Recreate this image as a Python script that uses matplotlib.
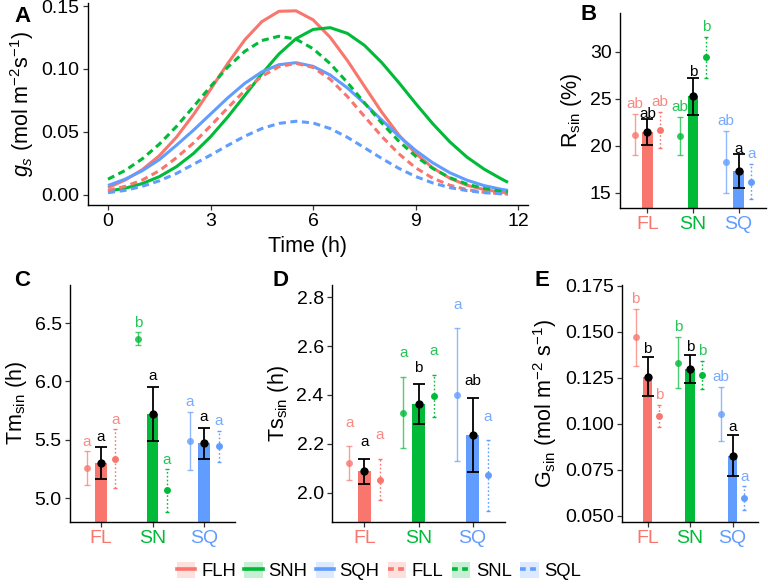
import matplotlib
matplotlib.use('Agg')
import matplotlib.pyplot as plt
import matplotlib.transforms as mtransforms
from matplotlib.patches import Patch
from matplotlib.lines import Line2D

plt.rcParams['font.family'] = ['Liberation Sans', 'DejaVu Sans']
plt.rcParams['mathtext.fontset'] = 'custom'
plt.rcParams['mathtext.rm'] = 'Liberation Sans'
plt.rcParams['mathtext.it'] = 'Liberation Sans:italic'
plt.rcParams['mathtext.bf'] = 'Liberation Sans:bold'

# ---------------- data: panel A ----------------
time_h = [0, 0.5, 1, 1.5, 2, 2.5, 3, 3.5, 4, 4.5, 5, 5.5, 6, 6.5, 7, 7.5,
          8, 8.5, 9, 9.5, 10, 10.5, 11, 11.5, 11.7]
gs_FLH = [0.0058, 0.0118, 0.0200, 0.0311, 0.0458, 0.0637, 0.0838, 0.1043, 0.1231,
          0.1376, 0.1458, 0.1462, 0.1390, 0.1251, 0.1068, 0.0863, 0.0660, 0.0478,
          0.0329, 0.0215, 0.0132, 0.0077, 0.0043, 0.0022, 0.0017]
gs_SNH = [0.0030, 0.0053, 0.0090, 0.0145, 0.0224, 0.0329, 0.0462, 0.0618, 0.0789,
          0.0962, 0.1119, 0.1241, 0.1314, 0.1328, 0.1283, 0.1188, 0.1053, 0.0894,
          0.0726, 0.0565, 0.0421, 0.0300, 0.0205, 0.0128, 0.0100]
gs_SQH = [0.0075, 0.0125, 0.0192, 0.0280, 0.0394, 0.0514, 0.0642, 0.0770, 0.0886,
          0.0977, 0.1034, 0.1050, 0.1021, 0.0952, 0.0850, 0.0728, 0.0597, 0.0469,
          0.0353, 0.0255, 0.0176, 0.0117, 0.0074, 0.0045, 0.0036]
gs_FLL = [0.0036, 0.0068, 0.0118, 0.0192, 0.0295, 0.0412, 0.0548, 0.0691, 0.0828,
          0.0942, 0.1018, 0.1045, 0.1012, 0.0918, 0.0782, 0.0624, 0.0467, 0.0328,
          0.0215, 0.0133, 0.0077, 0.0042, 0.0021, 0.0010, 0.0007]
gs_SNL = [0.0125, 0.0194, 0.0286, 0.0403, 0.0543, 0.0700, 0.0861, 0.1014, 0.1140,
          0.1226, 0.1260, 0.1237, 0.1161, 0.1042, 0.0893, 0.0732, 0.0573, 0.0429,
          0.0307, 0.0210, 0.0137, 0.0086, 0.0051, 0.0029, 0.0023]
gs_SQL = [0.0018, 0.0036, 0.0068, 0.0112, 0.0170, 0.0243, 0.0316, 0.0393, 0.0466,
          0.0527, 0.0568, 0.0585, 0.0571, 0.0527, 0.0458, 0.0375, 0.0291, 0.0212,
          0.0146, 0.0095, 0.0058, 0.0034, 0.0018, 0.0009, 0.0007]

series_names = ['FLH', 'SNH', 'SQH', 'FLL', 'SNL', 'SQL']

# ---------------- data: bar panels ----------------
groups = ['FL', 'SN', 'SQ']

# R_sin (%)
R_H = [21.2, 21.05, 18.28];   R_H_se = [2.15, 2.03, 3.25]
R_M = [21.46, 25.24, 17.29];  R_M_se = [1.36, 1.98, 1.8]
R_L = [21.7, 29.4, 16.2];     R_L_se = [1.92, 2.2, 1.89]
R_lab_H = ['ab', 'ab', 'ab']; R_lab_M = ['ab', 'b', 'a']; R_lab_L = ['ab', 'b', 'a']

# Tm_sin (h)
Tm_H = [5.258, 6.365, 5.49];  Tm_H_se = [0.145, 0.055, 0.25]
Tm_M = [5.30, 5.72, 5.468];   Tm_M_se = [0.135, 0.235, 0.134]
Tm_L = [5.339, 5.066, 5.445]; Tm_L_se = [0.25, 0.183, 0.134]
Tm_lab_H = ['a', 'b', 'a']; Tm_lab_M = ['a', 'a', 'a']; Tm_lab_L = ['a', 'a', 'a']

# Ts_sin (h)
Ts_H = [2.121, 2.328, 2.40];  Ts_H_se = [0.069, 0.147, 0.272]
Ts_M = [2.0875, 2.363, 2.237]; Ts_M_se = [0.052, 0.08, 0.152]
Ts_L = [2.053, 2.397, 2.071]; Ts_L_se = [0.085, 0.086, 0.144]
Ts_lab_H = ['a', 'a', 'a']; Ts_lab_M = ['a', 'b', 'ab']; Ts_lab_L = ['a', 'a', 'a']

# G_sin (mol m-2 s-1)
G_H = [0.1470, 0.1333, 0.1054]; G_H_se = [0.0155, 0.0140, 0.0147]
G_M = [0.1257, 0.1297, 0.0828]; G_M_se = [0.0104, 0.0075, 0.0112]
G_L = [0.1045, 0.1266, 0.0596]; G_L_se = [0.0059, 0.0077, 0.0064]
G_lab_H = ['b', 'b', 'ab']; G_lab_M = ['b', 'b', 'a']; G_lab_L = ['b', 'b', 'a']

# ---------------- style ----------------
COLS = ['#F8766D', '#00BA38', '#619CFF']
W, H = 768, 588
fig = plt.figure(figsize=(W / 100, H / 100), dpi=100)

TICK_FS = 14
TITLE_FS = 15.5
PANEL_FS = 16
LETTER_FS = 11


def px_axes(l, t, r, b):
    return fig.add_axes([l / W, 1 - b / H, (r - l) / W, (b - t) / H])


def style_axes(ax):
    for s in ['top', 'right']:
        ax.spines[s].set_visible(False)
    for s in ['left', 'bottom']:
        ax.spines[s].set_linewidth(1.0)
        ax.spines[s].set_color('black')
    ax.tick_params(axis='both', length=3.5, width=0.9, color='#333333',
                   labelsize=TICK_FS, pad=2.5, labelcolor='black')


# ---------------- panel A ----------------
axA = px_axes(88, 3, 528, 205)
style_axes(axA)
curves = [gs_FLH, gs_SNH, gs_SQH, gs_FLL, gs_SNL, gs_SQL]
dash = (0, (2.3, 1.5))
for i, (name, vals) in enumerate(zip(series_names, curves)):
    c = COLS[i % 3]
    ls = '-' if i < 3 else dash
    axA.plot(time_h, vals, color=c, lw=2.2, linestyle=ls, solid_capstyle='butt')
axA.set_xlim(-0.585, 12.285)
axA.set_ylim(-0.008, 0.1524)
axA.set_xticks([0, 3, 6, 9, 12])
axA.set_yticks([0.0, 0.05, 0.10, 0.15])
axA.set_yticklabels(['0.00', '0.05', '0.10', '0.15'])
axA.set_xlabel('Time (h)', fontsize=TITLE_FS, labelpad=4)
axA.set_ylabel(r'$g_s$ (mol m$^{-2}$s$^{-1}$)', fontsize=TITLE_FS, labelpad=4)
fig.text(14 / W, 1 - 16 / H, 'A', fontsize=PANEL_FS, fontweight='bold', va='center', ha='left')


# ---------------- bar panels ----------------
def bar_panel(ax, H_, H_se, M_, M_se, L_, L_se, labH, labM, labL, off_col, off_blk):
    style_axes(ax)
    x = [1, 2, 3]
    dx = 0.28
    ax.bar(x, M_, width=0.23, color=COLS, zorder=1)
    base = mtransforms.offset_copy(ax.transData, fig=fig, y=-3.5, units='points')
    for i in range(3):
        c = COLS[i]
        # H (left)
        ax.errorbar(x[i] - dx, H_[i], yerr=H_se[i], fmt='none', ecolor=c, alpha=0.7,
                    elinewidth=1.0, capsize=2.0, capthick=1.0, zorder=2)
        ax.plot(x[i] - dx, H_[i], 'o', color=c, ms=5, alpha=0.8, mec='none', zorder=3)
        # L (right)
        eb = ax.errorbar(x[i] + dx, L_[i], yerr=L_se[i], fmt='none', ecolor=c,
                         elinewidth=1.0, capsize=1.5, capthick=1.0, zorder=2)
        for lc in eb[2]:
            lc.set_linestyle((0, (1.2, 1.6)))
        ax.plot(x[i] + dx, L_[i], 'o', color=c, ms=5, mec='none', zorder=3)
        # mean (black)
        ax.errorbar(x[i], M_[i], yerr=M_se[i], fmt='none', ecolor='black',
                    elinewidth=1.3, capsize=4.0, capthick=1.3, zorder=4)
        ax.plot(x[i], M_[i], 'o', color='black', ms=6, mec='none', zorder=5)
        # letters
        ax.text(x[i] - dx, H_[i] + H_se[i] + off_col, labH[i], color=c, alpha=0.85,
                fontsize=LETTER_FS, ha='center', va='baseline', transform=base)
        ax.text(x[i] + dx, L_[i] + L_se[i] + off_col, labL[i], color=c, alpha=0.85,
                fontsize=LETTER_FS, ha='center', va='baseline', transform=base)
        ax.text(x[i], M_[i] + M_se[i] + off_blk, labM[i], color='black',
                fontsize=LETTER_FS, ha='center', va='baseline', transform=base)
    ax.set_xlim(0.4, 3.6)
    ax.set_xticks(x)
    ax.set_xticklabels(groups)
    for t, c in zip(ax.get_xticklabels(), COLS):
        t.set_color(c)


axB = px_axes(620, 13, 766, 208)
bar_panel(axB, R_H, R_H_se, R_M, R_M_se, R_L, R_L_se, R_lab_H, R_lab_M, R_lab_L, 1.15, 0.7)
axB.set_ylim(13.4, 34.1)
axB.set_yticks([15, 20, 25, 30])
axB.set_ylabel(r'R$_{\rm sin}$ (%)', fontsize=TITLE_FS, labelpad=4)
fig.text(580 / W, 1 - 15 / H, 'B', fontsize=PANEL_FS, fontweight='bold', va='center', ha='left')

axC = px_axes(70, 285, 235, 522)
bar_panel(axC, Tm_H, Tm_H_se, Tm_M, Tm_M_se, Tm_L, Tm_L_se, Tm_lab_H, Tm_lab_M, Tm_lab_L, 0.088, 0.10)
axC.set_ylim(4.795, 6.826)
axC.set_yticks([5.0, 5.5, 6.0, 6.5])
axC.set_yticklabels(['5.0', '5.5', '6.0', '6.5'])
axC.set_ylabel(r'Tm$_{\rm sin}$ (h)', fontsize=TITLE_FS, labelpad=4)
fig.text(14 / W, 1 - 280 / H, 'C', fontsize=PANEL_FS, fontweight='bold', va='center', ha='left')

axD = px_axes(332, 285, 505, 522)
bar_panel(axD, Ts_H, Ts_H_se, Ts_M, Ts_M_se, Ts_L, Ts_L_se, Ts_lab_H, Ts_lab_M, Ts_lab_L, 0.10, 0.071)
axD.set_ylim(1.88, 2.85)
axD.set_yticks([2.0, 2.2, 2.4, 2.6, 2.8])
axD.set_yticklabels(['2.0', '2.2', '2.4', '2.6', '2.8'])
axD.set_ylabel(r'Ts$_{\rm sin}$ (h)', fontsize=TITLE_FS, labelpad=4)
fig.text(273 / W, 1 - 280 / H, 'D', fontsize=PANEL_FS, fontweight='bold', va='center', ha='left')

axE = px_axes(622, 285, 758, 522)
bar_panel(axE, G_H, G_H_se, G_M, G_M_se, G_L, G_L_se, G_lab_H, G_lab_M, G_lab_L, 0.0056, 0.0049)
axE.set_ylim(0.0467, 0.1755)
axE.set_yticks([0.050, 0.075, 0.100, 0.125, 0.150, 0.175])
axE.set_yticklabels(['0.050', '0.075', '0.100', '0.125', '0.150', '0.175'])
axE.set_ylabel(r'G$_{\rm sin}$ (mol m$^{-2}$ s$^{-1}$)', fontsize=TITLE_FS, labelpad=4)
fig.text(535 / W, 1 - 280 / H, 'E', fontsize=PANEL_FS, fontweight='bold', va='center', ha='left')

# ---------------- legend ----------------
handles = []
for i, name in enumerate(series_names):
    c = COLS[i % 3]
    ls = '-' if i < 3 else (0, (1.6, 1.2))
    handles.append((Patch(facecolor=c, alpha=0.22, edgecolor='none'),
                    Line2D([], [], color=c, lw=2.6, linestyle=ls)))
fig.legend(handles, series_names, loc='center', bbox_to_anchor=(379 / W, 1 - 571 / H),
           ncol=6, frameon=False, fontsize=13.3, handlelength=1.0, handleheight=1.0,
           handletextpad=0.3, columnspacing=0.45, borderpad=0.1)

fig.savefig('out.png', dpi=100)
